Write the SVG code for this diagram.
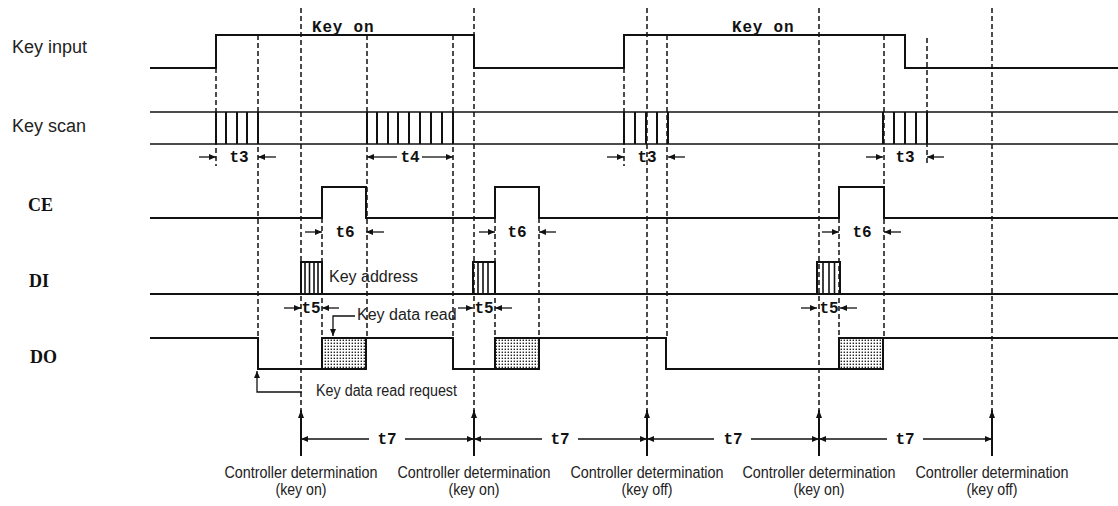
<svg xmlns="http://www.w3.org/2000/svg" width="1118" height="506" viewBox="0 0 1118 506">
<defs>
<style>
.sig{fill:none;stroke:#111;stroke-width:2;stroke-linejoin:miter}
.thin{fill:none;stroke:#111;stroke-width:1.6}
.dash{fill:none;stroke:#111;stroke-width:1.5;stroke-dasharray:5 3}
.dim{fill:none;stroke:#111;stroke-width:1.3;marker-end:url(#ah)}
.up{fill:none;stroke:#111;stroke-width:2;marker-end:url(#ahu)}
.lab{font-family:"Liberation Sans",Arial,sans-serif;fill:#222}
.big{font-size:18px}
.med{font-size:16px}
.ser{font-family:"Liberation Serif","Times New Roman",serif;font-size:18px;font-weight:bold;fill:#111}
.mono{font-family:"Liberation Mono","Courier New",monospace;font-size:16px;font-weight:bold;fill:#111}
.mid{text-anchor:middle}
.box{fill:url(#dots);stroke:#111;stroke-width:2}
</style>
<marker id="ah" viewBox="0 0 7 6" refX="7" refY="3" markerWidth="7" markerHeight="6" markerUnits="userSpaceOnUse" orient="auto">
<path d="M0,0 L7,3 L0,6 z" fill="#111"/>
</marker>
<marker id="ahu" viewBox="0 0 8 8" refX="8" refY="4" markerWidth="8" markerHeight="8" markerUnits="userSpaceOnUse" orient="auto">
<path d="M0,1 L8,4 L0,7 z" fill="#111"/>
</marker>
<pattern id="dots" width="3" height="3" patternUnits="userSpaceOnUse">
<rect width="3" height="3" fill="#fff"/>
<rect x="0.6" y="0.6" width="1.4" height="1.4" fill="#222"/>
</pattern>
</defs>
<rect width="1118" height="506" fill="#fff"/>

<g id="signal-labels">
<text class="lab big" x="12" y="53">Key input</text>
<text class="lab big" x="12" y="132">Key scan</text>
<text class="ser" x="28" y="211">CE</text>
<text class="ser" x="29" y="287">DI</text>
<text class="ser" x="30" y="363">DO</text>
</g>

<g id="guides">
<line class="dash" x1="216" y1="68" x2="216" y2="166"/>
<line class="dash" x1="258" y1="35" x2="258" y2="338"/>
<line class="dash" x1="301" y1="8" x2="301" y2="412"/>
<line class="dash" x1="322" y1="218" x2="322" y2="338"/>
<line class="dash" x1="367" y1="35" x2="367" y2="338"/>
<line class="dash" x1="453" y1="35" x2="453" y2="338"/>
<line class="dash" x1="474" y1="8" x2="474" y2="412"/>
<line class="dash" x1="495" y1="218" x2="495" y2="338"/>
<line class="dash" x1="539" y1="218" x2="539" y2="338"/>
<line class="dash" x1="624" y1="68" x2="624" y2="166"/>
<line class="dash" x1="647" y1="8" x2="647" y2="412"/>
<line class="dash" x1="667" y1="35" x2="667" y2="338"/>
<line class="dash" x1="819" y1="8" x2="819" y2="412"/>
<line class="dash" x1="839" y1="218" x2="839" y2="338"/>
<line class="dash" x1="884" y1="35" x2="884" y2="338"/>
<line class="dash" x1="927" y1="38" x2="927" y2="166"/>
<line class="dash" x1="992" y1="8" x2="992" y2="412"/>
</g>

<g id="key-input">
<path class="sig" d="M150,68 H216 V35 H474 V68 H624 V35 H905 V68 H1118"/>
<text class="mono" x="312" y="32" letter-spacing="0.8">Key on</text>
<text class="mono" x="732" y="32" letter-spacing="0.8">Key on</text>
</g>

<g id="key-scan">
<line class="thin" x1="150" y1="112" x2="1118" y2="112"/>
<line class="thin" x1="150" y1="144" x2="1118" y2="144"/>
<path class="sig" d="M216,112V144 M226,112V144 M237,112V144 M247,112V144 M258,112V144"/>
<path class="sig" d="M367,112V144 M377,112V144 M388,112V144 M398,112V144 M409,112V144 M420,112V144 M431,112V144 M442,112V144 M453,112V144"/>
<path class="sig" d="M624,112V144 M635,112V144 M646,112V144 M657,112V144 M668,112V144"/>
<path class="sig" d="M883,112V144 M894,112V144 M905,112V144 M916,112V144 M927,112V144"/>
</g>

<g id="ce">
<path class="sig" d="M150,218 H322 V187 H366 V218 H495 V187 H539 V218 H839 V187 H884 V218 H1118"/>
</g>

<g id="di">
<path class="sig" d="M150,294 H1118"/>
<path class="sig" d="M301,294 V262 H322 V294"/>
<path class="thin" d="M305,262V294 M309.5,262V294 M314,262V294 M318,262V294"/>
<path class="sig" d="M473,294 V262 H495 V294"/>
<path class="thin" d="M478,262V294 M483,262V294 M488,262V294"/>
<path class="sig" d="M817,294 V262 H840 V294"/>
<path class="thin" d="M823,262V294 M829,262V294 M834.5,262V294"/>
<text class="lab med" x="329" y="282">Key address</text>
</g>

<g id="do">
<rect class="box" x="322" y="338" width="44" height="31"/>
<rect class="box" x="495" y="338" width="44" height="31"/>
<rect class="box" x="839" y="338" width="44" height="31"/>
<path class="sig" d="M150,338 H258 V369 H322 V338 H453 V369 H495 V338 H666 V369 H839 V338 H1118"/>
<text class="lab med" x="357" y="320">Key data read</text>
<text class="lab med" x="316" y="396" textLength="141" lengthAdjust="spacingAndGlyphs">Key data read request</text>
</g>

<g id="connectors">
<line class="dim" x1="199" y1="157" x2="216" y2="157"/>
<line class="dim" x1="276" y1="157" x2="258" y2="157"/>
<line class="dim" x1="397" y1="157" x2="367" y2="157"/>
<line class="dim" x1="422" y1="157" x2="453" y2="157"/>
<line class="dim" x1="607" y1="157" x2="624" y2="157"/>
<line class="dim" x1="685" y1="157" x2="668" y2="157"/>
<line class="dim" x1="866" y1="157" x2="883" y2="157"/>
<line class="dim" x1="944" y1="157" x2="927" y2="157"/>
<line class="dim" x1="305" y1="232" x2="322" y2="232"/>
<line class="dim" x1="384" y1="232" x2="366" y2="232"/>
<line class="dim" x1="479" y1="232" x2="495" y2="232"/>
<line class="dim" x1="556" y1="232" x2="539" y2="232"/>
<line class="dim" x1="822" y1="232" x2="839" y2="232"/>
<line class="dim" x1="901" y1="232" x2="884" y2="232"/>
<line class="dim" x1="284" y1="308" x2="301" y2="308"/>
<line class="dim" x1="339" y1="308" x2="322" y2="308"/>
<line class="dim" x1="458" y1="308" x2="473" y2="308"/>
<line class="dim" x1="512" y1="308" x2="495" y2="308"/>
<line class="dim" x1="801" y1="308" x2="817" y2="308"/>
<line class="dim" x1="857" y1="308" x2="840" y2="308"/>
<path class="dim" d="M355,316 H333 V336"/>
<path class="dim" d="M302,392 H257 V371"/>
<line class="dim" x1="369" y1="439" x2="301" y2="439"/>
<line class="dim" x1="405" y1="439" x2="474" y2="439"/>
<line class="dim" x1="542" y1="439" x2="474" y2="439"/>
<line class="dim" x1="578" y1="439" x2="647" y2="439"/>
<line class="dim" x1="714" y1="439" x2="647" y2="439"/>
<line class="dim" x1="751" y1="439" x2="819" y2="439"/>
<line class="dim" x1="887" y1="439" x2="819" y2="439"/>
<line class="dim" x1="923" y1="439" x2="992" y2="439"/>
<line class="up" x1="301" y1="456" x2="301" y2="410"/>
<line class="up" x1="474" y1="456" x2="474" y2="410"/>
<line class="up" x1="647" y1="456" x2="647" y2="410"/>
<line class="up" x1="819" y1="456" x2="819" y2="410"/>
<line class="up" x1="992" y1="456" x2="992" y2="410"/>
</g>

<g id="time-labels">
<text class="mono mid" x="239" y="162">t3</text>
<text class="mono mid" x="410" y="162">t4</text>
<text class="mono mid" x="647" y="162">t3</text>
<text class="mono mid" x="905" y="162">t3</text>
<text class="mono mid" x="345" y="237">t6</text>
<text class="mono mid" x="517" y="237">t6</text>
<text class="mono mid" x="862" y="237">t6</text>
<text class="mono mid" x="311" y="313">t5</text>
<text class="mono mid" x="484" y="313">t5</text>
<text class="mono mid" x="829" y="313">t5</text>
<text class="mono mid" x="387" y="444">t7</text>
<text class="mono mid" x="560" y="444">t7</text>
<text class="mono mid" x="733" y="444">t7</text>
<text class="mono mid" x="905" y="444">t7</text>
</g>

<g id="determinations">
<text class="lab med mid" x="301" y="478" textLength="153" lengthAdjust="spacingAndGlyphs">Controller determination</text>
<text class="lab med mid" x="301" y="495" textLength="51" lengthAdjust="spacingAndGlyphs">(key on)</text>
<text class="lab med mid" x="474" y="478" textLength="153" lengthAdjust="spacingAndGlyphs">Controller determination</text>
<text class="lab med mid" x="474" y="495" textLength="51" lengthAdjust="spacingAndGlyphs">(key on)</text>
<text class="lab med mid" x="647" y="478" textLength="153" lengthAdjust="spacingAndGlyphs">Controller determination</text>
<text class="lab med mid" x="647" y="495" textLength="51" lengthAdjust="spacingAndGlyphs">(key off)</text>
<text class="lab med mid" x="819" y="478" textLength="153" lengthAdjust="spacingAndGlyphs">Controller determination</text>
<text class="lab med mid" x="819" y="495" textLength="51" lengthAdjust="spacingAndGlyphs">(key on)</text>
<text class="lab med mid" x="992" y="478" textLength="153" lengthAdjust="spacingAndGlyphs">Controller determination</text>
<text class="lab med mid" x="992" y="495" textLength="51" lengthAdjust="spacingAndGlyphs">(key off)</text>
</g>
</svg>
